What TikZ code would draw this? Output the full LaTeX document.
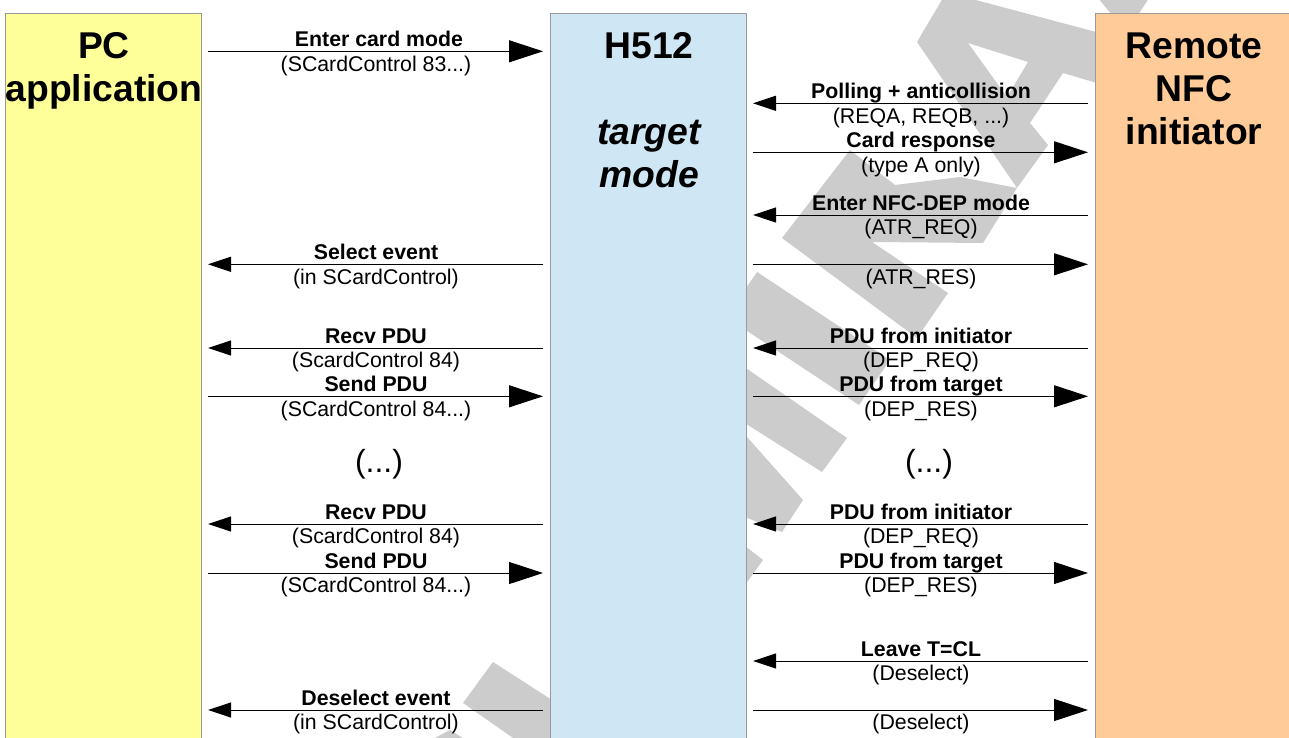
\documentclass[tikz,border=0pt]{standalone}
\usepackage{fontspec}
\setmainfont{Liberation Sans}
\usetikzlibrary{arrows.meta}
\definecolor{wm}{HTML}{CCCCCC}
\definecolor{pcfill}{HTML}{FFFF99}
\definecolor{hfill}{HTML}{CFE7F5}
\definecolor{nfcfill}{HTML}{FFCC99}
\definecolor{boxedge}{HTML}{999999}
\newcommand{\firstline}{\rule{0pt}{30pt}}
% name, x-left, x-right, y, bold text, plain text
\newcommand{\msgright}[6]{%
  \coordinate (#1a) at (#2,#4);
  \coordinate (#1b) at (#3,#4);
  \draw[bigarrow] (#1a) -- (#1b);
  \node[boldlabel] (#1t) at ({(#2+#3)/2+0.5},#4-4.7) {#5};
  \node[sublabel] (#1s) at ({(#2+#3)/2+0.5},#4+19.8) {#6};}
\newcommand{\msgleft}[6]{%
  \coordinate (#1a) at (#3,#4);
  \coordinate (#1b) at (#2,#4);
  \draw[smallarrow] (#1a) -- (#1b);
  \node[boldlabel] (#1t) at ({(#2+#3)/2+0.5},#4-4.7) {#5};
  \node[sublabel] (#1s) at ({(#2+#3)/2+0.5},#4+19.8) {#6};}
\tikzset{
  watermark/.style={fill=wm,draw=none},
  lane/.style={draw=boxedge,line width=1pt},
  bigarrow/.style={line width=1pt,-{Triangle[length=34pt,width=22pt]}},
  smallarrow/.style={line width=1pt,-{Triangle[length=23pt,width=15pt]}},
  boldlabel/.style={anchor=base,inner sep=0pt,font=\fontsize{21.3}{24}\selectfont\bfseries},
  sublabel/.style={anchor=base,inner sep=0pt,font=\fontsize{21.3}{24}\selectfont},
  dots/.style={anchor=base,inner sep=0pt,font=\fontsize{32}{36}\selectfont},
  heading/.style={anchor=north,inner sep=0pt,align=center,font=\fontsize{37.3}{43}\selectfont\bfseries},
}
\begin{document}
\begin{tikzpicture}[x=1pt,y=-1pt]
\path[use as bounding box,clip] (0,0) rectangle (1289,738);
\fill[white] (0,0) rectangle (1289,738);
% watermark fragments
\fill[watermark,even odd rule]
  (943,-2) -- (917,42) -- (1017,188) -- (1048,145) -- (1030,123) -- (1063,73)
  -- (1100,84) -- (1100,33) -- (968,-2) -- cycle
  (968,43) -- (1028,62) -- (1007,97) -- cycle;
\fill[watermark] (782,238) -- (850,150) -- (895,185) -- (960,177) -- (1017,188)
  -- (983,243) -- (872,242) -- (948,293) -- (917,338) -- cycle;
\fill[watermark] (757,272) -- (890,360) -- (859,405) -- (726,317) -- cycle;
\fill[watermark] (740,364) -- (847,438) -- (822,472) -- (740,420) -- cycle;
\fill[watermark] (740,430) -- (747,437) -- (803,500) -- (782,532) -- (740,515) -- cycle;
\fill[watermark] (740,542) -- (763,560) -- (740,592) -- cycle;
\fill[watermark] (493,662) -- (552,700) -- (552,740) -- (516,740) -- (463,703) -- cycle;
\fill[watermark] (450,730) -- (431,740) -- (466,740) -- cycle;
\fill[watermark] (1098,-2) -- (1112,15) -- (1138,15) -- (1149,-2) -- cycle;
% lanes
\node[lane,fill=pcfill,minimum width=196pt,minimum height=745pt,anchor=north west,inner sep=0pt] (pc) at (5,13) {};
\node[lane,fill=hfill,minimum width=196pt,minimum height=745pt,anchor=north west,inner sep=0pt] (h) at (550,13) {};
\node[lane,fill=nfcfill,minimum width=210pt,minimum height=745pt,anchor=north west,inner sep=0pt] (nfc) at (1095,13) {};
% headings
\node[heading] (pct) at (104,28) {\firstline PC\\application};
\node[heading] (ht) at (649,28) {\firstline H512\\[43pt]\itshape target\\\itshape mode};
\node[heading] (nfct) at (1194,28) {\firstline Remote\\NFC\\initiator};
% left messages
\msgright{la}{208}{543}{51.3}{\hspace*{6pt}Enter card mode}{(SCardControl 83...)}
\msgleft{lb}{208}{543}{264.3}{Select event}{(in SCardControl)}
\msgleft{lc}{208}{543}{348}{Recv PDU}{(ScardControl 84)}
\msgright{ld}{208}{543}{396.3}{Send PDU}{(SCardControl 84...)}
\node[dots] (ldots) at (379,472) {(...)};
\msgleft{le}{208}{543}{524}{Recv PDU}{(ScardControl 84)}
\msgright{lf}{208}{543}{573}{Send PDU}{(SCardControl 84...)}
\msgleft{lg}{208}{543}{710}{Deselect event}{(in SCardControl)}
% right messages
\msgleft{ra}{753}{1088}{103.3}{Polling + anticollision}{(REQA, REQB, ...)}
\msgright{rb}{753}{1088}{152.3}{Card response}{(type A only)}
\msgleft{rc}{753}{1088}{215}{Enter NFC-DEP mode}{(ATR\_REQ)}
\msgright{rd}{753}{1088}{264.3}{}{(ATR\_RES)}
\msgleft{re}{753}{1088}{348}{PDU from initiator}{(DEP\_REQ)}
\msgright{rf}{753}{1088}{396.3}{PDU from target}{(DEP\_RES)}
\node[dots] (rdots) at (929,472) {(...)};
\msgleft{rg}{753}{1088}{524}{PDU from initiator}{(DEP\_REQ)}
\msgright{rh}{753}{1088}{573}{PDU from target}{(DEP\_RES)}
\msgleft{ri}{753}{1088}{661}{Leave T=CL}{(Deselect)}
\msgright{rj}{753}{1088}{710}{}{(Deselect)}
\end{tikzpicture}
\end{document}
